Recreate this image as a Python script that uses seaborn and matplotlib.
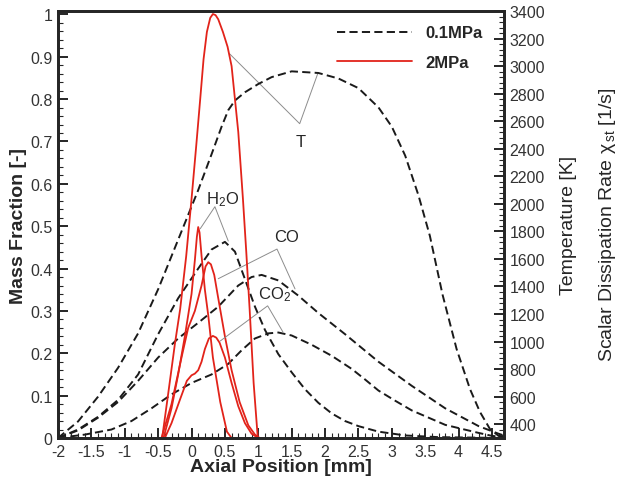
import numpy as np
import pandas as pd
import matplotlib
matplotlib.use("Agg")
import matplotlib.pyplot as plt
import seaborn as sns
from matplotlib.ticker import MultipleLocator, FuncFormatter

# ---- 0.1 MPa (black dashed) ----
t01_x = [-2.0, -1.7, -1.4, -1.1, -0.8, -0.5, -0.2, 0.1, 0.3, 0.45, 0.55, 0.65, 0.8, 1.0,
         1.2, 1.5, 1.9, 2.2, 2.5, 2.8, 3.0, 3.2, 3.4, 3.57, 3.76, 3.97, 4.17, 4.32, 4.47,
         4.6, 4.68]
t01_k = [300, 420, 600, 810, 1060, 1380, 1740, 2100, 2360, 2560, 2680, 2750, 2810, 2870,
         2920, 2962, 2950, 2910, 2840, 2700, 2560, 2350, 2060, 1767, 1340, 946, 656, 489, 365,
         315, 305]

h2o01_x = [-2.0, -1.7, -1.4, -1.1, -0.8, -0.5, -0.2, 0.1, 0.3, 0.5, 0.65, 0.8, 0.95, 1.1,
           1.3, 1.5, 1.7, 1.9, 2.1, 2.3, 2.5, 2.8, 3.2, 3.7, 4.68]
h2o01_y = [0, 0.02, 0.05, 0.09, 0.15, 0.245, 0.33, 0.40, 0.445, 0.463, 0.44, 0.375, 0.31, 0.255,
           0.198, 0.155, 0.115, 0.083, 0.058, 0.04, 0.028, 0.015, 0.006, 0.002, 0]

co01_x = [-2.0, -1.7, -1.4, -1.1, -0.8, -0.5, -0.2, 0.1, 0.4, 0.7, 0.9, 1.05, 1.3, 1.6,
          1.9, 2.3, 2.8, 3.3, 3.8, 4.3, 4.6, 4.68]
co01_y = [0, 0.018, 0.048, 0.085, 0.135, 0.19, 0.235, 0.272, 0.31, 0.36, 0.38, 0.385, 0.372,
          0.336, 0.295, 0.245, 0.18, 0.123, 0.07, 0.028, 0.01, 0.006]

co201_x = [-2.0, -1.6, -1.2, -0.9, -0.6, -0.3, 0.0, 0.3, 0.55, 0.75, 0.95, 1.15, 1.3, 1.5,
           1.8, 2.1, 2.4, 2.6, 2.8, 3.05, 3.3, 3.8, 4.3, 4.5, 4.68]
co201_y = [0, 0.008, 0.02, 0.04, 0.07, 0.103, 0.13, 0.15, 0.175, 0.207, 0.235, 0.247, 0.249,
           0.242, 0.22, 0.194, 0.163, 0.138, 0.112, 0.088, 0.065, 0.031, 0.012, 0.005, 0.002]

# ---- 2 MPa (red solid) ----
t2_x = [-0.44, -0.35, -0.25, -0.17, -0.08, 0.0, 0.07, 0.13, 0.18, 0.23, 0.28, 0.32, 0.36,
        0.40, 0.47, 0.54, 0.6, 0.7, 0.77, 0.82, 0.87, 0.93, 0.99]
t2_k = [300, 620, 980, 1237, 1620, 2035, 2420, 2761, 3050, 3248, 3350, 3378, 3370,
        3340, 3248, 3140, 3000, 2522, 2035, 1650, 1237, 700, 315]

h2o2_x = [-0.42, -0.3, -0.2, -0.1, 0.0, 0.05, 0.08, 0.1, 0.12, 0.15, 0.2, 0.25, 0.32, 0.43,
          0.53, 0.6]
h2o2_y = [0, 0.07, 0.15, 0.24, 0.34, 0.42, 0.475, 0.498, 0.485, 0.43, 0.35, 0.29, 0.19, 0.085,
          0.015, 0]

co2_x = [-0.45, -0.3, -0.15, -0.05, 0.05, 0.15, 0.21, 0.25, 0.29, 0.34, 0.4, 0.5, 0.6, 0.72,
         0.85, 0.95, 1.02]
co2_y = [0, 0.08, 0.19, 0.26, 0.3, 0.36, 0.405, 0.415, 0.41, 0.385, 0.33, 0.24, 0.16, 0.085,
         0.03, 0.008, 0]

co22_x = [-0.4, -0.3, -0.17, -0.07, 0.0, 0.05, 0.1, 0.15, 0.2, 0.26, 0.32, 0.37, 0.42, 0.5,
          0.6, 0.7, 0.8, 0.9, 1.0]
co22_y = [0, 0.035, 0.092, 0.135, 0.148, 0.152, 0.16, 0.18, 0.21, 0.235, 0.241, 0.237, 0.225,
          0.19, 0.13, 0.075, 0.035, 0.01, 0]

x_ticks = [-2, -1.5, -1, -0.5, 0, 0.5, 1, 1.5, 2, 2.5, 3, 3.5, 4, 4.5]
t_ticks = [400, 600, 800, 1000, 1200, 1400, 1600, 1800, 2000, 2200, 2400, 2600, 2800,
           3000, 3200, 3400]

sns.set_style("ticks")
plt.rcParams['font.family'] = ['Liberation Sans', 'DejaVu Sans']
plt.rcParams['mathtext.fontset'] = 'custom'
plt.rcParams['mathtext.rm'] = 'Liberation Sans'
plt.rcParams['mathtext.it'] = 'Liberation Sans:italic'
plt.rcParams['mathtext.default'] = 'regular'
plt.rcParams['axes.unicode_minus'] = False

BLACK = '#1a1a1a'
RED = '#e2231a'
GREY = '#8c8c8c'
TICKC = '#333333'
DASH = (0, (4.2, 2.2))

fig = plt.figure(figsize=(6.18, 4.81), dpi=100)
ax = fig.add_axes([58 / 618, 42 / 481, 446 / 618, 427 / 481])
ax2 = ax.twinx()

for xs, ys in [(h2o01_x, h2o01_y), (co01_x, co01_y), (co201_x, co201_y)]:
    sns.lineplot(x=xs, y=ys, ax=ax, color=BLACK, lw=1.4, linestyle=DASH)
for xs, ys in [(h2o2_x, h2o2_y), (co2_x, co2_y), (co22_x, co22_y)]:
    sns.lineplot(x=xs, y=ys, ax=ax, color=RED, lw=1.3)

sns.lineplot(x=t01_x, y=t01_k, ax=ax2, color=BLACK, lw=1.4, linestyle=DASH, label='0.1MPa')
sns.lineplot(x=t2_x, y=t2_k, ax=ax2, color=RED, lw=1.3, label='2MPa')

ax.set_xlim(-2, 4.68)
ax.set_ylim(0, 1.008)
ax2.set_ylim(300, 3400)

ax.set_xticks(x_ticks)
ax.xaxis.set_minor_locator(MultipleLocator(0.1))
ax.yaxis.set_major_locator(MultipleLocator(0.1))
ax.yaxis.set_minor_locator(MultipleLocator(0.02))
ax2.set_yticks(t_ticks)
ax2.yaxis.set_minor_locator(MultipleLocator(40))
fmt = FuncFormatter(lambda v, p: '%g' % round(v, 3))
ax.xaxis.set_major_formatter(fmt)
ax.yaxis.set_major_formatter(fmt)

for a in (ax, ax2):
    a.tick_params(which='major', direction='in', length=7, width=1.4, labelsize=11.5,
                  labelcolor=TICKC, pad=4)
    a.tick_params(which='minor', direction='in', length=3.5, width=0.8)
    for s in a.spines.values():
        s.set_linewidth(2)
ax.tick_params(axis='both', which='both', top=False, right=False)
ax2.tick_params(axis='y', which='both', left=False, right=True)

ax.set_xlabel('Axial Position [mm]', fontsize=14, fontweight='bold')
ax.set_ylabel('Mass Fraction [-]', fontsize=14, fontweight='bold')
ax.xaxis.set_label_coords(0.5, -0.048)
ax.yaxis.set_label_coords(-0.07, 0.5)
ax2.set_ylabel('Temperature [K]', fontsize=14)
ax2.yaxis.set_label_coords(1.125, 0.5)
fig.text(607 / 618, 0.532, 'Scalar Dissipation Rate $\\chi_{\\,st}$ [1/s]', rotation=90,
         fontsize=14, ha='center', va='center')

leg = ax2.legend(loc='upper left', bbox_to_anchor=(329 / 618, 1 - 18 / 481),
                 bbox_transform=fig.transFigure, frameon=False, borderpad=0,
                 handlelength=4.5, handletextpad=0.8, labelspacing=0.85,
                 prop={'weight': 'bold', 'size': 12})

# leader lines and labels
ax.plot([0.57, 1.62, 1.89], [0.907, 0.742, 0.86], color=GREY, lw=0.7)
ax.text(1.64, 0.70, 'T', fontsize=12, ha='center', va='center')

ax.plot([0.13, 0.35, 0.55], [0.494, 0.546, 0.465], color=GREY, lw=0.7)
ax.text(0.46, 0.565, 'H$_2$O', fontsize=12, ha='center', va='center')

ax.plot([0.40, 1.28, 1.55], [0.376, 0.446, 0.352], color=GREY, lw=0.7)
ax.text(1.43, 0.475, 'CO', fontsize=12, ha='center', va='center')

ax.plot([0.43, 1.14, 1.37], [0.229, 0.312, 0.25], color=GREY, lw=0.7)
ax.text(1.24, 0.34, 'CO$_2$', fontsize=12, ha='center', va='center')

fig.savefig('out.png', dpi=100)
